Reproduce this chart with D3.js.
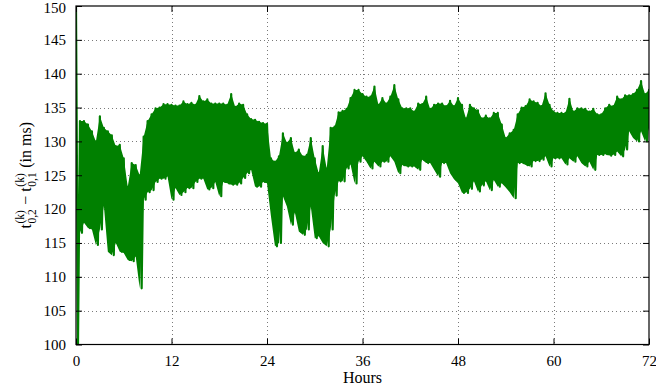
<!DOCTYPE html>
<html>
<head>
<meta charset="utf-8">
<script src="https://cdn.jsdelivr.net/npm/d3@7"></script>
<style>
  html, body { margin: 0; padding: 0; background: #fff; }
  svg text { font-family: "Liberation Serif", "DejaVu Serif", serif; fill: #000; }
</style>
</head>
<body>
<svg id="chart" width="656" height="392"></svg>
<script>
// Sampling step (hours) of the upper / lower envelope readings
const stepHours = 0.5;

// Upper envelope of the delay difference (ms), one value every 0.5 h from 0 to 72 h
const upperMs = [
  150, 133, 133, 132.5, 131.5, 130, 133.7, 132, 131.5, 130.9, 129.3, 129.5,
  127.5, 123.3, 126.8, 126.5, 125, 130.7, 133, 134, 134.9, 135, 135.5, 135.5,
  135.4, 135.3, 135.3, 135.9, 135.5, 135.7, 135.4, 136.7, 135.9, 136.2, 135.6, 135.6,
  135.6, 135.6, 135.4, 137, 135.1, 135.6, 135.4, 134, 133.3, 133.2, 132.9, 132.7,
  132.6, 127.5, 127, 127.8, 131.2, 129.8, 130.5, 128.3, 128.8, 127.8, 128, 130.5,
  127.5, 125.3, 129.3, 126, 132, 132.2, 134.3, 134.5, 134.8, 136.4, 137.6, 137.6,
  137, 136.6, 136.6, 138.1, 135.4, 136.4, 135.6, 136.6, 138.3, 136.2, 134.9, 134.9,
  134.9, 134.4, 135.6, 135.5, 136.6, 134.8, 135.4, 135.6, 135.6, 135.2, 136, 135.2,
  136.4, 135.4, 133.4, 135.4, 134.9, 134.6, 133.4, 133.8, 133.4, 134.2, 134.2, 132.5,
  130.5, 131.2, 131.7, 134, 135, 135.2, 136.2, 135.9, 135.7, 135.2, 137.1, 135.4,
  134.4, 134.2, 134.2, 134.2, 136.3, 134.4, 134.9, 134.9, 134.8, 134.4, 134.8, 134,
  134, 134.9, 135.4, 135.2, 136.6, 136.2, 136.8, 136.8, 137, 137.6, 138.9, 137,
  137.6
];

// Lower envelope of the delay difference (ms), same sampling
const lowerMs = [
  100, 116.5, 118, 117.2, 117, 114.7, 117, 120.5, 113.7, 113.2, 115, 113.7,
  113.5, 112.5, 112.3, 113, 108.3, 121.4, 122.5, 122.8, 124, 124.5, 124.5, 124.8,
  121.4, 123.1, 122.1, 122.5, 123.1, 123.1, 124, 124.5, 124.5, 122.9, 123.1, 124,
  121.9, 124, 123.8, 123.6, 123.6, 123.8, 124.6, 125.3, 125.8, 123.3, 123.3, 124,
  123.8, 118.9, 114.5, 115, 121.9, 120.4, 117.7, 119.5, 116.7, 116.2, 117, 120.4,
  115.7, 116, 115, 114.5, 117, 122, 124.1, 124.1, 126, 126.6, 123.8, 127,
  127.8, 127, 126, 127, 126.3, 127, 127, 127.8, 127, 125.3, 126.5, 126.3,
  126.3, 126.3, 125.8, 127.3, 126.8, 126.8, 125.8, 124.8, 126.8, 126.8, 125.3, 124.4,
  123.8, 122.4, 122.4, 123, 124.1, 122.6, 123.5, 124.1, 122.8, 124.3, 123.3, 123.8,
  123.2, 122.5, 121.6, 126.8, 126.8, 126.5, 126.3, 127.1, 127.1, 127.3, 127.8, 126.3,
  127.5, 127.5, 127.5, 126.6, 127.5, 127, 127.8, 126.8, 126.3, 127, 125.8, 128,
  128, 128.1, 127.9, 128, 128.5, 127.8, 128.8, 131.5, 130.5, 130, 131.5, 130,
  132
];

// Axis tick values
const xTicks = [0, 12, 24, 36, 48, 60, 72];
const yTicks = [100, 105, 110, 115, 120, 125, 130, 135, 140, 145, 150];

const width = 656, height = 392;
const margin = { left: 76, right: 7, top: 6, bottom: 47.5 };
const plotW = width - margin.left - margin.right;
const plotH = height - margin.top - margin.bottom;

const svg = d3.select("#chart");

const x = d3.scaleLinear().domain([0, 72]).range([margin.left, margin.left + plotW]);
const y = d3.scaleLinear().domain([100, 150]).range([margin.top + plotH, margin.top]);

// Dotted grid
const grid = svg.append("g")
  .attr("stroke", "#7a7a7a")
  .attr("stroke-width", 1)
  .attr("stroke-dasharray", "1,3");
grid.selectAll("line.gx").data(xTicks.slice(1, -1)).join("line")
  .attr("x1", d => Math.round(x(d)) + 0.5).attr("x2", d => Math.round(x(d)) + 0.5)
  .attr("y1", margin.top).attr("y2", margin.top + plotH);
grid.selectAll("line.gy").data(yTicks.slice(1, -1)).join("line")
  .attr("y1", d => Math.round(y(d)) + 0.5).attr("y2", d => Math.round(y(d)) + 0.5)
  .attr("x1", margin.left).attr("x2", margin.left + plotW);

svg.append("clipPath").attr("id", "plotClip")
  .append("rect")
  .attr("x", margin.left).attr("y", margin.top)
  .attr("width", plotW).attr("height", plotH);

const green = "#008000";
const series = svg.append("g").attr("clip-path", "url(#plotClip)");

// Band between the envelopes (the start-up transient at t = 0 is drawn by the line only)
const band = upperMs.map((hi, i) => ({ t: i * stepHours, hi, lo: lowerMs[i] })).slice(1);
series.append("path")
  .datum(band)
  .attr("fill", green)
  .attr("stroke", "none")
  .attr("d", d3.area().x(d => x(d.t)).y0(d => y(d.lo)).y1(d => y(d.hi)));

// Fast oscillation: alternate between the upper and lower envelope readings
const points = [];
upperMs.forEach((hi, i) => {
  const t = i * stepHours;
  points.push([t, hi]);
  points.push([Math.min(72, t + stepHours / 2), lowerMs[i]]);
});
series.append("path")
  .datum(points)
  .attr("fill", "none")
  .attr("stroke", green)
  .attr("stroke-width", 2.2)
  .attr("stroke-linejoin", "round")
  .attr("d", d3.line().x(d => x(d[0])).y(d => y(d[1])));

// Axes with inward ticks on all four sides
const tickLen = 6;
const bottomAxis = d3.axisBottom(x).tickValues(xTicks).tickSizeInner(-tickLen).tickSizeOuter(0).tickPadding(tickLen + 5);
const leftAxis = d3.axisLeft(y).tickValues(yTicks).tickSizeInner(-tickLen).tickSizeOuter(0).tickPadding(tickLen + 4);
const topAxis = d3.axisTop(x).tickValues(xTicks).tickSizeInner(-tickLen).tickSizeOuter(0).tickFormat("");
const rightAxis = d3.axisRight(y).tickValues(yTicks).tickSizeInner(-tickLen).tickSizeOuter(0).tickFormat("");

function styleAxis(g) {
  g.select(".domain").remove();
  g.selectAll(".tick line").attr("stroke", "#000").attr("stroke-width", 1);
  g.selectAll(".tick text")
    .style("font-family", "'Liberation Serif', 'DejaVu Serif', serif")
    .style("font-size", "15px").attr("fill", "#000");
}

svg.append("g").attr("transform", `translate(0,${margin.top + plotH})`).call(bottomAxis).call(styleAxis);
svg.append("g").attr("transform", `translate(${margin.left},0)`).call(leftAxis).call(styleAxis);
svg.append("g").attr("transform", `translate(0,${margin.top})`).call(topAxis).call(styleAxis);
svg.append("g").attr("transform", `translate(${margin.left + plotW},0)`).call(rightAxis).call(styleAxis);

// Keep the top y tick label inside the page
svg.selectAll("text").filter(function () { return this.textContent === "150"; }).attr("dy", "0.45em");

// Frame
svg.append("rect")
  .attr("x", margin.left).attr("y", margin.top)
  .attr("width", plotW).attr("height", plotH)
  .attr("fill", "none").attr("stroke", "#000").attr("stroke-width", 1.2);

// X label
svg.append("text")
  .attr("x", margin.left + plotW / 2).attr("y", 383)
  .attr("text-anchor", "middle")
  .style("font-size", "16px")
  .text("Hours");

// Y label: t^(k)_{0,2} − t^(k)_{0,1} (in ms), built piece by piece
const yl = svg.append("g");
const mainSize = 16, scriptSize = 11.5;
let cursor = 0;
function addMain(str) {
  const t = yl.append("text").attr("x", cursor).attr("y", 0)
    .attr("xml:space", "preserve").style("white-space", "pre")
    .style("font-size", mainSize + "px").text(str);
  cursor += t.node().getComputedTextLength();
}
function addScripts(sup, sub) {
  const a = yl.append("text").attr("x", cursor + 0.5).attr("y", -7).style("font-size", scriptSize + "px").text(sup);
  const b = yl.append("text").attr("x", cursor + 0.5).attr("y", 5).style("font-size", scriptSize + "px").text(sub);
  cursor += Math.max(a.node().getComputedTextLength(), b.node().getComputedTextLength()) + 1;
}
addMain("t");
addScripts("(k)", "0,2");
addMain("\u00A0\u2212\u00A0");
addMain("t");
addScripts("(k)", "0,1");
addMain("\u00A0(in ms)");
const labelW = cursor;
yl.attr("transform", `translate(31,${margin.top + plotH / 2 + labelW / 2}) rotate(-90)`);
</script>
</body>
</html>
